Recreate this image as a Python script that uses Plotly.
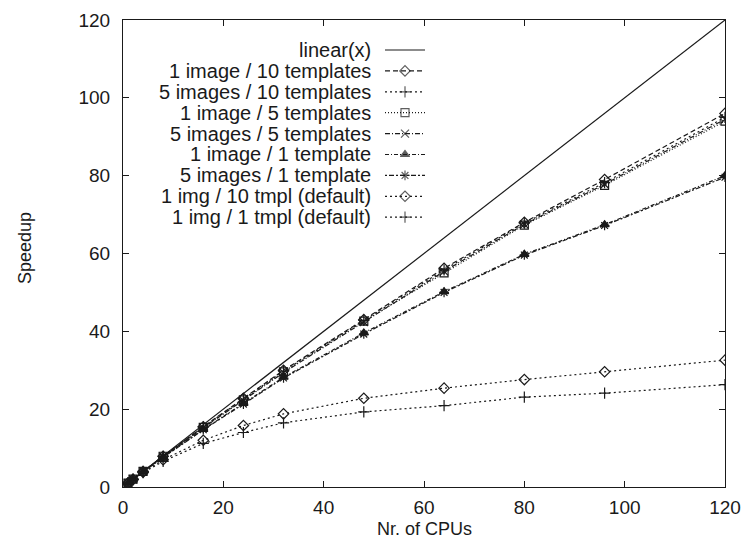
import plotly.graph_objects as go

cpus = [1, 2, 4, 8, 16, 24, 32, 48, 64, 80, 96, 120]

names = [
    "linear(x)",
    "1 image / 10 templates",
    "5 images / 10 templates",
    "1 image / 5 templates",
    "5 images / 5 templates",
    "1 image / 1 template",
    "5 images / 1 template",
    "1 img / 10 tmpl (default)",
    "1 img / 1 tmpl (default)",
]

linear = [1, 2, 4, 8, 16, 24, 32, 48, 64, 80, 96, 120]
s_1i10t = [1, 2, 4, 7.9, 15.5, 22.8, 30.0, 43.0, 56.2, 68.0, 79.0, 96.0]
s_5i10t = [1, 2, 4, 7.9, 15.4, 22.6, 29.8, 42.8, 55.8, 67.8, 78.2, 95.0]
s_1i5t = [1, 2, 4, 7.9, 15.3, 22.4, 29.6, 42.6, 55.0, 67.3, 77.5, 94.0]
s_5i5t = [1, 2, 4, 7.8, 15.2, 22.2, 29.4, 42.4, 55.4, 67.5, 77.8, 94.5]
s_1i1t = [1, 2, 3.9, 7.7, 14.8, 21.5, 28.2, 39.6, 50.2, 59.8, 67.4, 80.0]
s_5i1t = [1, 2, 3.9, 7.6, 14.7, 21.3, 28.0, 39.3, 50.0, 59.6, 67.2, 79.6]
d_1i10t = [1, 1.9, 3.8, 7.0, 12.0, 15.8, 18.8, 22.8, 25.4, 27.6, 29.6, 32.6]
d_1i1t = [1, 1.9, 3.7, 6.6, 11.2, 14.0, 16.5, 19.3, 20.9, 23.1, 24.1, 26.3]

series = [linear, s_1i10t, s_5i10t, s_1i5t, s_5i5t, s_1i1t, s_5i1t, d_1i10t, d_1i1t]

styles = [
    dict(dash="solid", symbol=None),
    dict(dash="5px,3px", symbol="diamond-open"),
    dict(dash="2px,3px", symbol="cross-thin-open"),
    dict(dash="1px,2px", symbol="square-open"),
    dict(dash="5px,2px,1px,2px", symbol="x-thin-open"),
    dict(dash="4px,2px,1px,2px", symbol="triangle-up"),
    dict(dash="2px,2px,5px,2px", symbol="asterisk-open"),
    dict(dash="2px,3px", symbol="diamond-open"),
    dict(dash="2px,3px", symbol="cross-thin-open"),
]

W, H = 742, 539
L, R, T, B = 123, 17, 20, 52
PW, PH = W - L - R, H - T - B

FONT = "Liberation Sans, Arial, sans-serif"
INK = "#1a1a1a"

fig = go.Figure()

for name, ys, st in zip(names, series, styles):
    mode = "lines" if st["symbol"] is None else "lines+markers"
    marker = dict(symbol=st["symbol"] or "circle", size=8, color=INK,
                  line=dict(width=1.2, color=INK))
    fig.add_trace(go.Scatter(x=cpus, y=ys, mode=mode, name=name,
                             line=dict(color=INK, width=1.2, dash=st["dash"]),
                             marker=marker, showlegend=False))

# custom legend (text right-aligned, sample on right), positioned in pixels
row0, dy = 50, 20.9
text_right = 373
samp_l, samp_r = 385, 425
for i, (name, st) in enumerate(zip(names, styles)):
    py = row0 + i * dy
    fy = (H - B - py) / PH
    fig.add_annotation(x=(text_right - L) / PW, y=fy, xref="paper", yref="paper",
                       text=name, showarrow=False, xanchor="right", yanchor="middle",
                       font=dict(family=FONT, size=20, color=INK))
    fx0, fx1 = (samp_l - L) / PW, (samp_r - L) / PW
    mode = "lines" if st["symbol"] is None else "lines+markers"
    fig.add_trace(go.Scatter(x=[fx0, (fx0 + fx1) / 2, fx1], y=[fy, fy, fy],
                             xaxis="x2", yaxis="y2", mode=mode, showlegend=False,
                             hoverinfo="skip",
                             line=dict(color=INK, width=1.2, dash=st["dash"]),
                             marker=dict(symbol=st["symbol"] or "circle", size=[0, 8, 0],
                                         color=INK, line=dict(width=1.2, color=INK))))

axis_common = dict(showgrid=False, zeroline=False, showline=True, linecolor=INK,
                   linewidth=1.2, mirror="ticks", ticks="inside", ticklen=6,
                   tickcolor=INK, tickwidth=1,
                   tickfont=dict(family=FONT, size=19, color=INK))

fig.update_layout(
    width=W, height=H,
    margin=dict(l=L, r=R, t=T, b=B, autoexpand=False),
    paper_bgcolor="white", plot_bgcolor="white",
    xaxis=dict(range=[0, 120], tickvals=[0, 20, 40, 60, 80, 100, 120],
               ticklabelstandoff=3, **axis_common),
    yaxis=dict(range=[0, 120], tickvals=[0, 20, 40, 60, 80, 100, 120],
               ticklabelstandoff=8, **axis_common),
    xaxis2=dict(range=[0, 1], overlaying="x", visible=False),
    yaxis2=dict(range=[0, 1], overlaying="y", visible=False),
)

fig.add_annotation(x=0.5, y=-(529 - (H - B)) / PH, xref="paper", yref="paper",
                   text="Nr. of CPUs", showarrow=False, xanchor="center", yanchor="middle",
                   font=dict(family=FONT, size=18, color=INK))
fig.add_annotation(x=-(L - 25) / PW, y=(H - B - 248) / PH, xref="paper", yref="paper",
                   text="Speedup", showarrow=False, textangle=-90,
                   xanchor="center", yanchor="middle",
                   font=dict(family=FONT, size=18, color=INK))

fig.write_html("out.html")
